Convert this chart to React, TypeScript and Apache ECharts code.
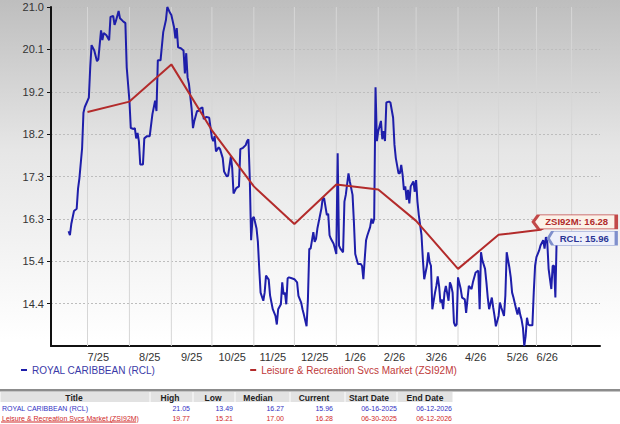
import React, { useEffect, useRef } from "react";
import * as echarts from "echarts";

const rclName = "ROYAL CARIBBEAN (RCL)";
const zsiName = "Leisure & Recreation Svcs Market (ZSI92M)";

const rclDates = [
  "2025-06-16","2025-06-17","2025-06-18","2025-06-20","2025-06-22","2025-06-23","2025-06-24","2025-06-26","2025-06-27","2025-06-28",
  "2025-07-01","2025-07-02","2025-07-03","2025-07-05","2025-07-07","2025-07-08","2025-07-10","2025-07-11","2025-07-12","2025-07-14",
  "2025-07-16","2025-07-17","2025-07-19","2025-07-20","2025-07-21","2025-07-23","2025-07-24","2025-07-26","2025-07-28","2025-07-29",
  "2025-07-31","2025-08-01","2025-08-03","2025-08-04","2025-08-05","2025-08-06","2025-08-07","2025-08-08","2025-08-10","2025-08-11",
  "2025-08-13","2025-08-15","2025-08-17","2025-08-19","2025-08-20","2025-08-21","2025-08-23","2025-08-25","2025-08-27","2025-08-28",
  "2025-08-30","2025-08-31","2025-09-02","2025-09-03","2025-09-04","2025-09-05","2025-09-07","2025-09-09","2025-09-10","2025-09-11",
  "2025-09-12","2025-09-13","2025-09-15","2025-09-16","2025-09-17","2025-09-19","2025-09-20","2025-09-21","2025-09-23","2025-09-24",
  "2025-09-26","2025-09-28","2025-09-30","2025-10-01","2025-10-02","2025-10-03","2025-10-05","2025-10-06","2025-10-08","2025-10-09",
  "2025-10-11","2025-10-12","2025-10-14","2025-10-15","2025-10-16","2025-10-18","2025-10-20","2025-10-21","2025-10-23","2025-10-25",
  "2025-10-26","2025-10-27","2025-10-28","2025-10-29","2025-10-30","2025-10-31","2025-11-02","2025-11-03","2025-11-04","2025-11-05",
  "2025-11-07","2025-11-08","2025-11-09","2025-11-11","2025-11-12","2025-11-14","2025-11-16","2025-11-17","2025-11-18","2025-11-20",
  "2025-11-21","2025-11-22","2025-11-23","2025-11-24","2025-11-25","2025-11-26","2025-11-28","2025-11-30","2025-12-02","2025-12-03",
  "2025-12-05","2025-12-06","2025-12-07","2025-12-09","2025-12-10","2025-12-11","2025-12-12","2025-12-14","2025-12-15","2025-12-16",
  "2025-12-17","2025-12-19","2025-12-20","2025-12-21","2025-12-22","2025-12-24","2025-12-25","2025-12-26","2025-12-27","2025-12-29",
  "2025-12-30","2025-12-31","2026-01-01","2026-01-02","2026-01-03","2026-01-05","2026-01-06","2026-01-07","2026-01-09","2026-01-10",
  "2026-01-12","2026-01-13","2026-01-14","2026-01-16","2026-01-18","2026-01-19","2026-01-20","2026-01-21","2026-01-22","2026-01-23",
  "2026-01-25","2026-01-26","2026-01-27","2026-01-28","2026-01-29","2026-01-30","2026-01-31","2026-02-02","2026-02-03","2026-02-04",
  "2026-02-05","2026-02-06","2026-02-08","2026-02-09","2026-02-11","2026-02-12","2026-02-13","2026-02-15","2026-02-16","2026-02-17",
  "2026-02-18","2026-02-19","2026-02-20","2026-02-21","2026-02-22","2026-02-23","2026-02-24","2026-02-26","2026-02-27","2026-02-28",
  "2026-03-01","2026-03-02","2026-03-04","2026-03-05","2026-03-06","2026-03-08","2026-03-09","2026-03-10","2026-03-11","2026-03-12",
  "2026-03-14","2026-03-15","2026-03-16","2026-03-17","2026-03-18","2026-03-19","2026-03-20","2026-03-21","2026-03-22","2026-03-24",
  "2026-03-25","2026-03-26","2026-03-27","2026-03-28","2026-03-29","2026-03-30","2026-03-31","2026-04-02","2026-04-03","2026-04-05",
  "2026-04-06","2026-04-08","2026-04-10","2026-04-11","2026-04-13","2026-04-15","2026-04-16","2026-04-17","2026-04-18","2026-04-20",
  "2026-04-21","2026-04-22","2026-04-23","2026-04-25","2026-04-26","2026-04-27","2026-04-28","2026-04-30","2026-05-01","2026-05-02",
  "2026-05-04","2026-05-05","2026-05-06","2026-05-08","2026-05-09","2026-05-10","2026-05-11","2026-05-13","2026-05-14","2026-05-15",
  "2026-05-16","2026-05-17","2026-05-18","2026-05-19","2026-05-20","2026-05-21","2026-05-22","2026-05-23","2026-05-25","2026-05-26",
  "2026-05-27","2026-05-28","2026-05-30","2026-05-31","2026-06-02","2026-06-03","2026-06-04","2026-06-05","2026-06-06","2026-06-07",
  "2026-06-08","2026-06-09","2026-06-10","2026-06-11","2026-06-12"
];

const rclClose = [
  16.05,15.96,16.21,16.5,16.55,17.0,17.23,17.9,18.69,18.82,
  19.03,19.7,20.2,20.08,19.84,19.88,20.53,20.31,20.47,20.42,
  20.31,20.83,20.85,20.65,20.74,20.96,20.8,20.74,20.69,19.7,
  18.96,18.35,18.33,18.35,18.12,18.24,18.06,17.54,17.54,18.12,
  18.17,18.17,18.66,18.96,18.73,19.86,19.86,20.49,20.76,21.05,
  20.92,20.87,20.6,20.35,20.58,20.15,20.13,20.08,19.57,20.02,
  19.48,19.34,18.78,18.35,18.51,18.73,18.73,18.78,18.81,18.55,
  18.6,18.58,18.13,18.06,18.17,17.83,17.92,17.88,17.68,17.38,
  17.27,17.29,17.72,17.46,16.89,17.01,17.05,17.88,17.91,17.97,
  18.06,18.1,17.23,15.85,16.33,16.37,16.11,15.81,15.21,14.68,
  14.5,14.68,15.06,14.97,14.62,14.31,14.16,13.97,14.31,14.42,
  14.91,14.64,14.68,14.42,15.0,15.02,15.0,14.98,14.91,14.61,
  14.46,14.31,14.19,13.93,14.53,15.66,15.66,16.03,15.81,15.88,
  16.11,16.41,16.56,16.8,16.78,16.41,16.44,15.96,15.88,15.77,
  15.66,15.54,17.79,15.73,15.66,15.58,16.71,16.86,17.34,17.16,
  16.86,16.26,15.54,15.32,15.32,15.28,14.98,15.43,15.85,15.96,
  16.14,16.33,16.22,16.33,19.26,18.06,18.28,18.51,18.1,18.28,
  18.06,18.92,18.94,18.92,18.58,17.98,17.68,17.34,17.34,17.53,
  17.31,16.97,17.05,16.75,16.97,16.67,17.05,17.16,16.93,17.19,
  16.71,16.41,15.96,15.43,14.98,15.28,15.58,15.36,15.28,14.31,
  14.68,14.83,15.04,14.83,14.46,14.53,14.31,14.68,14.83,14.5,
  14.91,14.83,14.68,14.01,13.93,13.97,15.02,14.76,14.57,14.53,
  14.23,14.83,14.76,14.91,15.13,15.17,14.31,15.58,15.4,15.21,
  14.91,14.57,14.31,14.57,14.35,14.16,13.93,14.16,14.46,14.35,
  14.16,14.61,15.58,15.24,15.02,14.68,14.57,14.31,14.19,14.35,
  14.19,14.08,13.9,13.49,13.71,14.12,13.97,13.95,13.95,14.68,
  15.28,15.47,15.62,15.73,15.85,15.66,15.92,15.81,15.21,14.98,
  14.76,15.28,15.28,14.57,15.96
];

const zsiDates = [
  "2025-06-30","2025-07-31","2025-08-31","2025-09-30","2025-10-31","2025-11-30",
  "2025-12-31","2026-01-31","2026-02-28","2026-03-31","2026-04-30","2026-05-31","2026-06-12"
];
const zsiClose = [18.71,18.94,19.77,18.3,17.05,16.21,17.09,16.98,16.28,15.21,15.97,16.08,16.28];

const gridDates = [
  "2025-06-30","2025-07-31","2025-08-31","2025-09-30","2025-10-31","2025-11-30",
  "2025-12-31","2026-01-31","2026-02-28","2026-03-31","2026-04-30","2026-05-28","2026-06-23"
];
const monthLabelDates = [
  "2025-07-08","2025-08-15","2025-09-15","2025-10-15","2025-11-14","2025-12-15",
  "2026-01-14","2026-02-12","2026-03-15","2026-04-13","2026-05-14","2026-06-05"
];

const yMin = 13.49;
const yMax = 21.05;
const yStep = 0.945;

const tableHeaders = ["Title","High","Low","Median","Current","Start Date","End Date"];
const rclRow = [rclName,"21.05","13.49","16.27","15.96","06-16-2025","06-12-2026"];
const zsiRow = [zsiName,"19.77","15.21","17.00","16.28","06-30-2025","06-12-2026"];

const FONT = '"Liberation Sans", Arial, sans-serif';
const BLUE = "#1e1eaa";
const RED = "#b32b2b";
const GRID = "#bdbdbd";

function ts(s: string): number {
  const [y, m, d] = s.split("-").map(Number);
  return new Date(y, m - 1, d).getTime();
}

export default function App() {
  const ref = useRef<HTMLDivElement>(null);
  useEffect(() => {
    if (!ref.current) return;
    const chart = echarts.init(ref.current, undefined, { renderer: "svg" });

    const colBounds = [0,150,193,235,290,345,397,453];
    const headerCenters = [74,170,213,258,314,369,425];
    const valueRights = [0,190,233,284,333,397,452];
    const graphics: any[] = [];
    graphics.push({ type: "rect", silent: true, shape: { x: 0, y: 389, width: 620, height: 2.5 }, style: { fill: "#8c8c8c" } });
    tableHeaders.forEach((h, i) => {
      graphics.push({ type: "rect", silent: true, shape: { x: colBounds[i] + 0.5, y: 392, width: colBounds[i + 1] - colBounds[i] - 1, height: 10 }, style: { fill: "#e2e2e2" } });
      graphics.push({ type: "text", silent: true, x: headerCenters[i], y: 397.5, style: { text: h, font: `bold 8.5px ${FONT}`, fill: "#222", align: "center", verticalAlign: "middle" } });
    });
    const rows = [ { row: rclRow, color: "#3232c4", y: 408 }, { row: zsiRow, color: "#d02828", y: 418 } ];
    rows.forEach(({ row, color, y }) => {
      row.forEach((t, i) => {
        graphics.push({
          type: "text", silent: true,
          x: i === 0 ? 2 : valueRights[i], y,
          style: { text: t, font: `7px ${FONT}`, fill: color, align: i === 0 ? "left" : "right", verticalAlign: "middle" },
        });
      });
    });
    graphics.push({ type: "line", silent: true, shape: { x1: 1, y1: 422, x2: 136, y2: 422 }, style: { stroke: "#d02828", lineWidth: 1 } });

    const tagPath = "path://M0,7L5,0L80,0L80,14L5,14Z";
    const lastRclDate = rclDates[rclDates.length - 1];
    const lastZsiDate = zsiDates[zsiDates.length - 1];
    const xMin = ts("2025-06-03");
    const xMax = ts("2026-07-14");

    chart.setOption({
      animation: false,
      grid: { left: 51, right: 20, top: 7, bottom: 78, containLabel: false, outerBoundsMode: "none" },
      legend: {
        left: 16, top: 360, icon: "rect", itemWidth: 6, itemHeight: 2, itemGap: 95, selectedMode: false,
        textStyle: { fontSize: 10, fontFamily: FONT },
        data: [
          { name: rclName, textStyle: { color: "#3a3aa8" } },
          { name: zsiName, textStyle: { color: "#c03a3a" } },
        ],
      },
      xAxis: {
        type: "value",
        min: xMin,
        max: xMax,
        axisLine: { show: true, onZero: false, lineStyle: { color: "#111", width: 2 } },
        axisTick: { show: false },
        splitLine: { show: false },
        axisLabel: {
          customValues: monthLabelDates.map(ts),
          formatter: (v: number) => {
            const d = new Date(v);
            return `${d.getMonth() + 1}/${String(d.getFullYear()).slice(2)}`;
          },
          fontSize: 11, fontFamily: FONT, color: "#333", margin: 5, hideOverlap: false,
          showMinLabel: true, showMaxLabel: true,
        },
      },
      yAxis: {
        type: "value",
        min: yMin, max: yMax, interval: yStep,
        axisLine: { show: true, lineStyle: { color: "#111", width: 2 } },
        axisTick: { show: true, length: 4, lineStyle: { color: "#111" } },
        splitLine: { show: true, lineStyle: { type: [2, 2], color: GRID, width: 1 } },
        axisLabel: {
          showMinLabel: false,
          formatter: (v: number) => (Math.round(v * 10 - 0.01) / 10).toFixed(1),
          fontSize: 11, fontFamily: FONT, color: "#333", margin: 7,
        },
      },
      graphic: graphics,
      series: [
        {
          type: "bar", name: "monthGrid", z: 1, silent: true, barWidth: 1, clip: true,
          data: gridDates.map((d) => [ts(d), yMax]),
          itemStyle: { color: "#d6d6d6" },
          emphasis: { disabled: true },
        },
        {
          type: "line", name: rclName,
          data: rclDates.map((d, i) => [ts(d), rclClose[i]]),
          showSymbol: false, symbol: "none", z: 3,
          lineStyle: { color: BLUE, width: 2 }, itemStyle: { color: BLUE },
          markPoint: {
            z: 6, silent: true, symbol: tagPath, symbolSize: [68, 14], symbolOffset: [25.5, 3],
            itemStyle: { color: "#eef0fa", borderColor: "#7f8fcc", borderWidth: 1.5 },
            label: { show: true, position: "inside", formatter: `RCL: ${rclRow[4]}`, color: "#2a3595", fontWeight: "bold", fontSize: 9.5, fontFamily: FONT, offset: [2, 0] },
            data: [{ coord: [ts(lastRclDate), Number(rclRow[4])] }],
          },
        },
        {
          type: "line", name: zsiName,
          data: zsiDates.map((d, i) => [ts(d), zsiClose[i]]),
          showSymbol: false, symbol: "none", z: 4,
          lineStyle: { color: RED, width: 2 }, itemStyle: { color: RED },
          markPoint: {
            z: 7, silent: true, symbol: tagPath, symbolSize: [83, 14], symbolOffset: [18, 1],
            itemStyle: { color: "#fbf1e8", borderColor: "#c24848", borderWidth: 1.5 },
            label: { show: true, position: "inside", formatter: `ZSI92M: ${zsiRow[4]}`, color: "#b02a2a", fontWeight: "bold", fontSize: 9.5, fontFamily: FONT, offset: [2, 0] },
            data: [{ coord: [ts(lastZsiDate), Number(zsiRow[4])] }],
          },
        },
      ],
    });

    return () => chart.dispose();
  }, []);

  return (
    <div
      ref={ref}
      style={{
        position: "fixed", left: 0, top: 0, width: 620, height: 424,
        background: "linear-gradient(to bottom, #bebebe 0px, #e6e6e6 150px, #ffffff 340px, #ffffff 424px)",
      }}
    />
  );
}
